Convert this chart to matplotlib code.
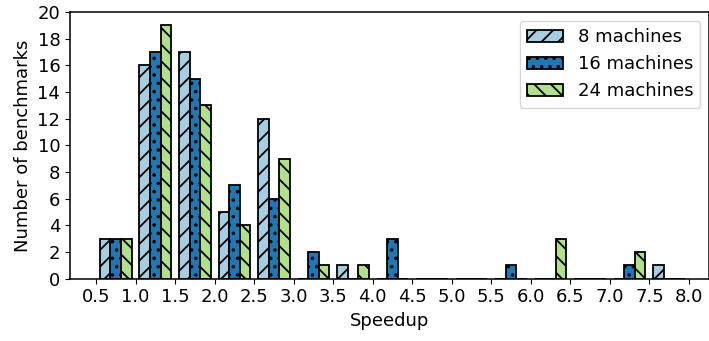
import numpy as np
import matplotlib
matplotlib.use('Agg')
import matplotlib.pyplot as plt

# histogram bins of speedup (width 0.5)
bin_edges = [0.5, 1.0, 1.5, 2.0, 2.5, 3.0, 3.5, 4.0, 4.5, 5.0, 5.5, 6.0, 6.5, 7.0, 7.5, 8.0]

# number of benchmarks per bin
counts_8 = [3, 16, 17, 5, 12, 0, 1, 0, 0, 0, 0, 0, 0, 0, 1]
counts_16 = [3, 17, 15, 7, 6, 2, 0, 3, 0, 0, 1, 0, 0, 1, 0]
counts_24 = [3, 19, 13, 4, 9, 1, 1, 0, 0, 0, 0, 3, 0, 2, 0]

labels = ['8 machines', '16 machines', '24 machines']
colors = ['#a6cee3', '#1f78b4', '#b2df8a']
hatches = ['//', '..', '\\\\']

plt.rcParams['font.size'] = 13
plt.rcParams['hatch.linewidth'] = 1.3
plt.rcParams['axes.linewidth'] = 1.1

fig = plt.figure(figsize=(7.09, 3.41), dpi=100)
ax = fig.add_axes([0.0987, 0.1827, 0.902, 0.782])

centers = [(a + b) / 2 for a, b in zip(bin_edges[:-1], bin_edges[1:])]
n, bins, containers = ax.hist([centers, centers, centers], bins=bin_edges,
                              weights=[counts_8, counts_16, counts_24],
                              color=colors, edgecolor='black', linewidth=1.3,
                              label=labels)
for cont, h in zip(containers, hatches):
    for p in cont:
        p.set_hatch(h)

ax.set_xticks(bin_edges)
ax.set_xticklabels([f'{e:.1f}' for e in bin_edges])
ax.set_yticks(range(0, 21, 2))
ax.set_xlim(0.171, 8.26)
ax.set_ylim(0, 20)
ax.set_xlabel('Speedup')
ax.set_ylabel('Number of benchmarks')
ax.legend(loc='upper right')

fig.savefig('out.png', dpi=100)
